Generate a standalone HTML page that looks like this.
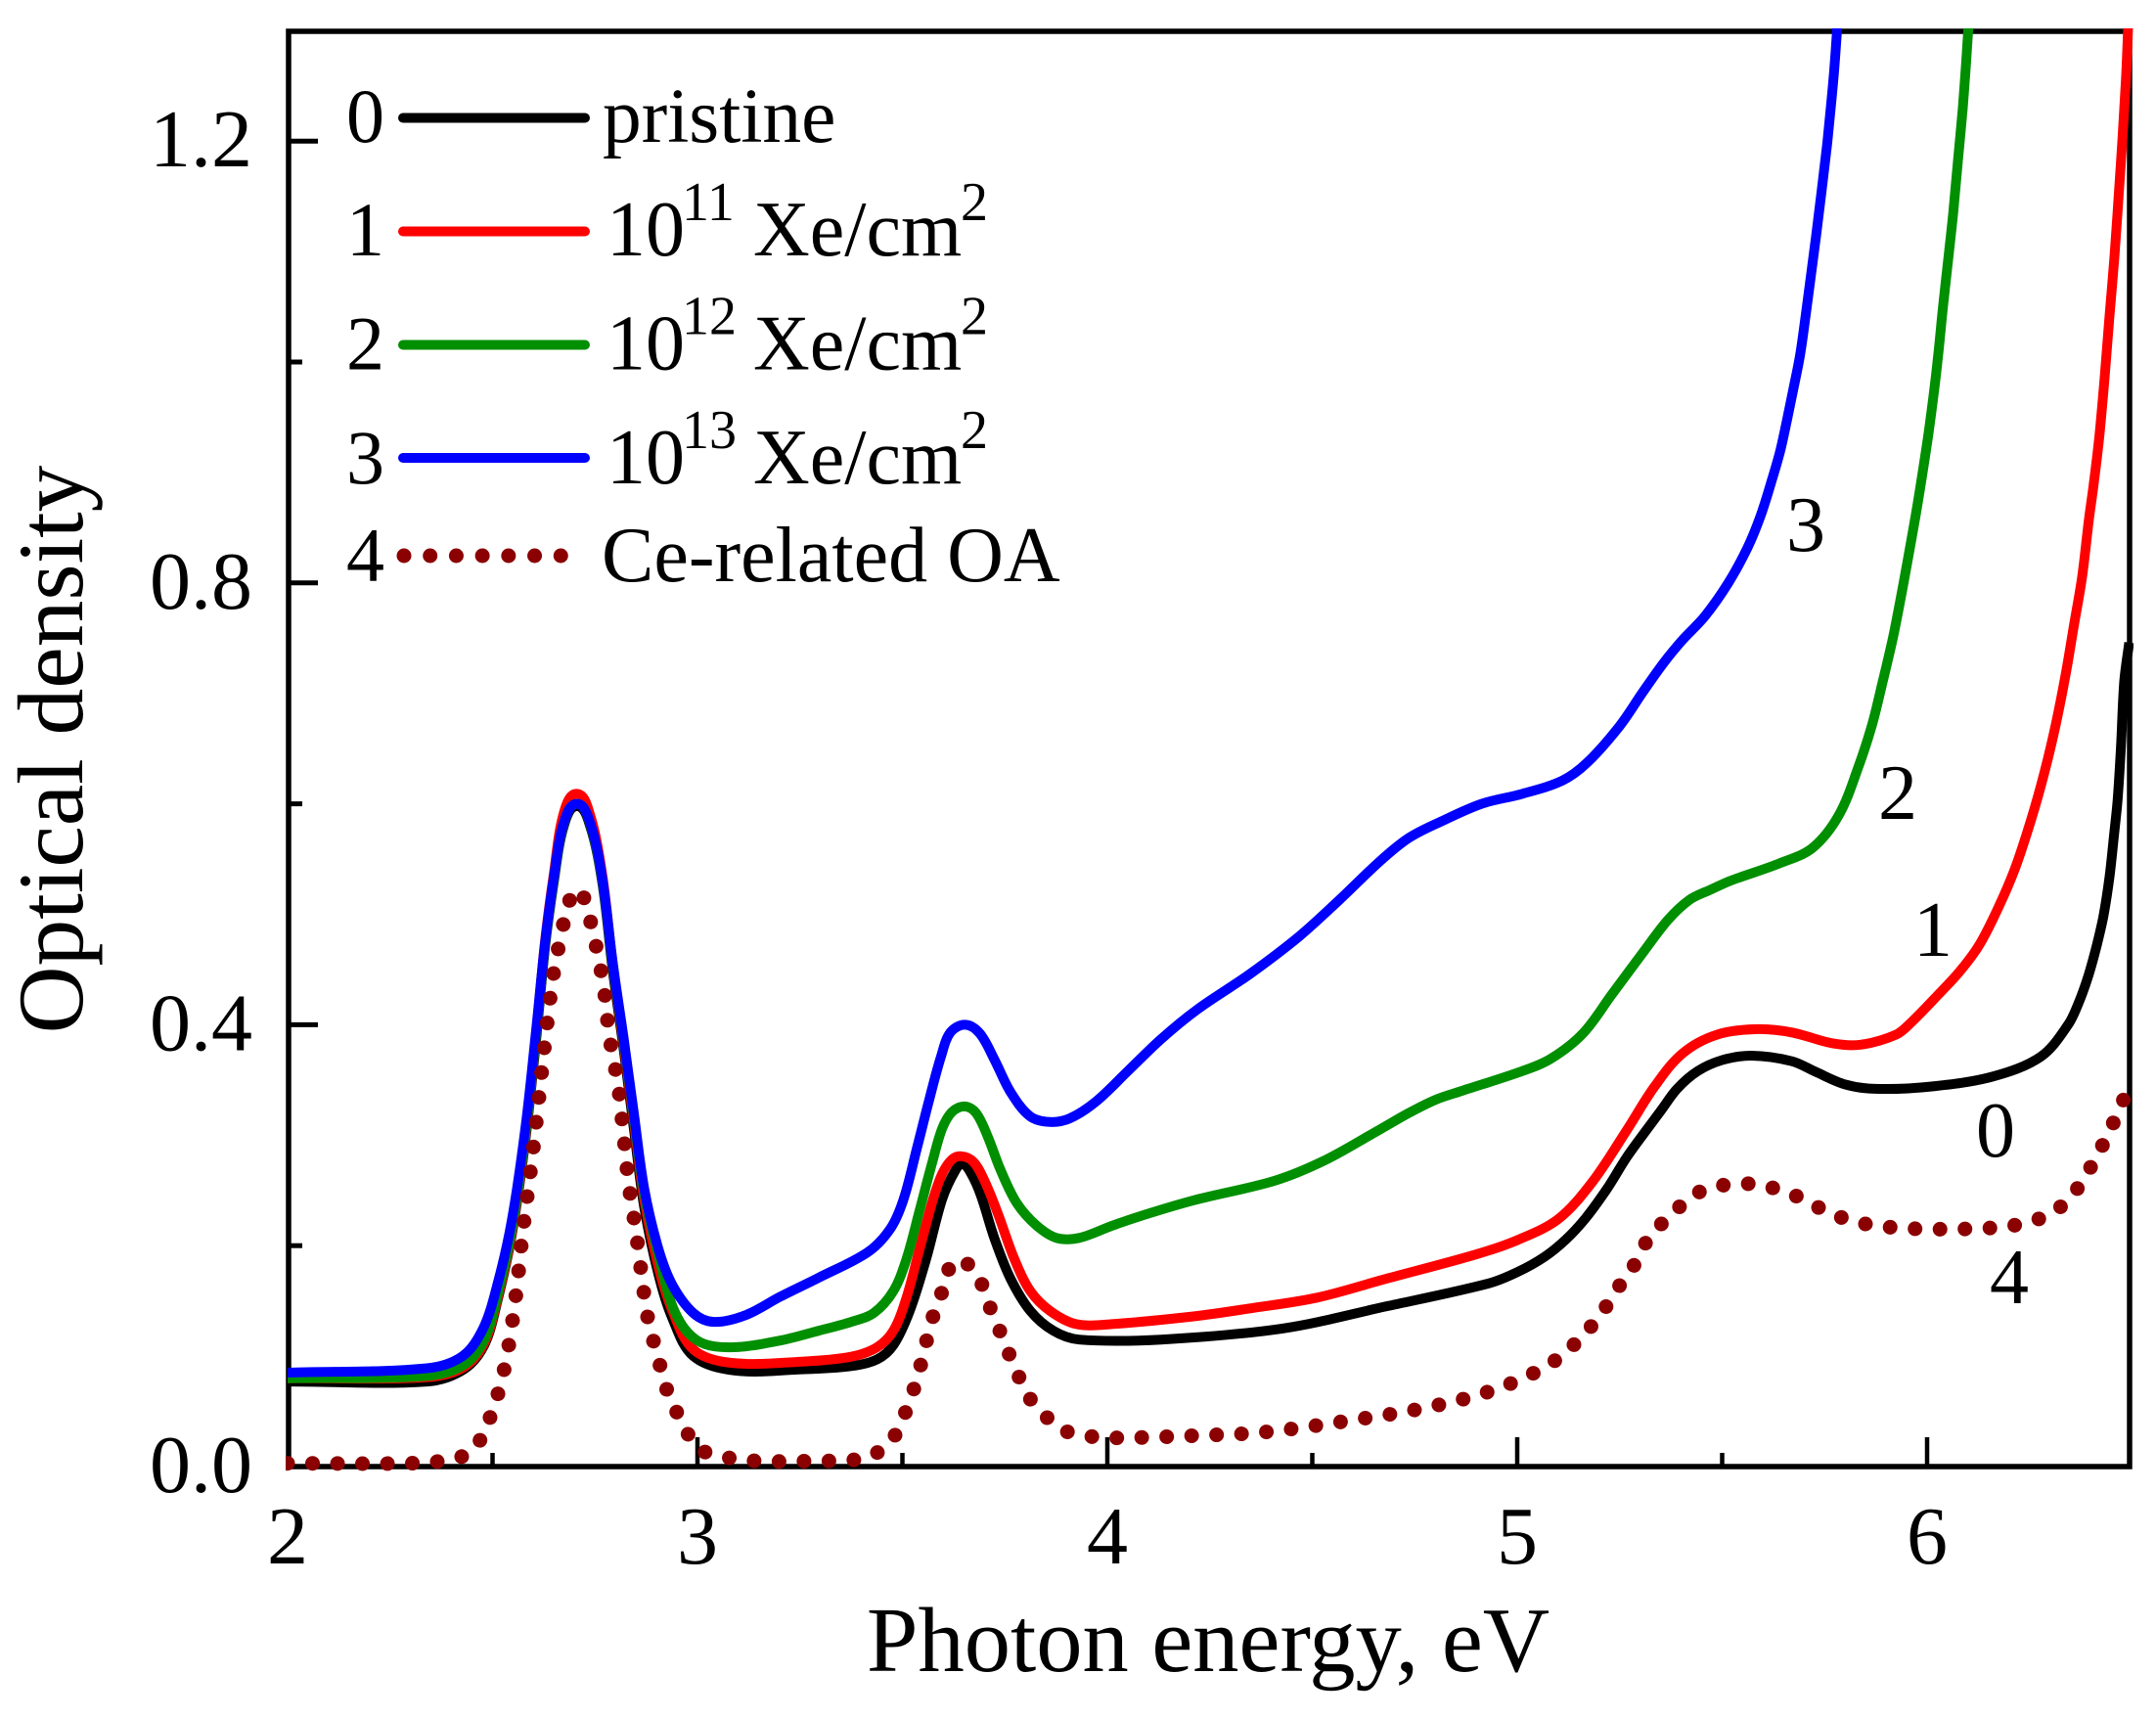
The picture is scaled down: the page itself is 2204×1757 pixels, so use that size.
<!DOCTYPE html>
<html lang="en">
<head>
<meta charset="utf-8">
<title>Optical density vs photon energy</title>
<style>
html,body{margin:0;padding:0;background:#fff;}
svg{display:block;}
text{font-family:"Liberation Serif",serif;fill:#000;}
</style>
</head>
<body>
<svg id="chart" xmlns="http://www.w3.org/2000/svg" width="2204" height="1757" viewBox="0 0 2204 1757">
  <defs>
    <clipPath id="plot-clip"><rect x="292" y="29" width="1889" height="1476"/></clipPath>
  </defs>
  <rect x="295" y="32" width="1882" height="1467" fill="none" stroke="#000" stroke-width="5.5"/>
  <g id="ticks"></g>
  <g id="series" clip-path="url(#plot-clip)"></g>

  <text x="1235" y="1708" font-size="94.5" text-anchor="middle">Photon energy, eV</text>
  <text transform="translate(84,766) rotate(-90)" font-size="95.5" text-anchor="middle">Optical density</text>

  <g>
    <text x="354" y="145" font-size="78">0</text>
    <line x1="412" y1="120.5" x2="598" y2="120.5" stroke="#000" stroke-width="10" stroke-linecap="round"/>
    <text x="616" y="145" font-size="79.5">pristine</text>

    <text x="354" y="261" font-size="78">1</text>
    <line x1="412" y1="236.5" x2="598" y2="236.5" stroke="#ff0000" stroke-width="10" stroke-linecap="round"/>
    <text x="620" y="261" font-size="80">10</text>
    <text x="697" y="225" font-size="56">11</text>
    <text x="770" y="261" font-size="80">Xe/cm</text>
    <text x="982" y="225" font-size="56">2</text>

    <text x="354" y="377.5" font-size="78">2</text>
    <line x1="412" y1="352.5" x2="598" y2="352.5" stroke="#008f00" stroke-width="10" stroke-linecap="round"/>
    <text x="620" y="377.5" font-size="80">10</text>
    <text x="697" y="341.5" font-size="56">12</text>
    <text x="770" y="377.5" font-size="80">Xe/cm</text>
    <text x="982" y="341.5" font-size="56">2</text>

    <text x="354" y="494" font-size="78">3</text>
    <line x1="412" y1="468" x2="598" y2="468" stroke="#0000ff" stroke-width="10" stroke-linecap="round"/>
    <text x="620" y="494" font-size="80">10</text>
    <text x="697" y="458" font-size="56">13</text>
    <text x="770" y="494" font-size="80">Xe/cm</text>
    <text x="982" y="458" font-size="56">2</text>

    <text x="354" y="594" font-size="78">4</text>
    <line x1="413" y1="568" x2="582" y2="568" stroke="#8b0000" stroke-width="15" stroke-linecap="round" stroke-dasharray="0.01 26.7"/>
    <text x="615" y="594" font-size="80">Ce-related OA</text>
  </g>

  <text x="1826" y="563" font-size="80">3</text>
  <text x="1920" y="837" font-size="80">2</text>
  <text x="1956" y="977" font-size="80">1</text>
  <text x="2020" y="1182" font-size="80">0</text>
  <text x="2034" y="1332" font-size="80">4</text>
</svg>
<script>
var xTickValues = [2, 2.5, 3, 3.5, 4, 4.5, 5, 5.5, 6];
var xTickLabels = ["2", "", "3", "", "4", "", "5", "", "6"];
var yTickValues = [0, 0.2, 0.4, 0.6, 0.8, 1.0, 1.2];
var yTickLabels = ["0.0", "", "0.4", "", "0.8", "", "1.2"];

var pristineEnergy = [2,2.34,2.43,2.48,2.512,2.547,2.58,2.606,2.628,2.649,2.674,2.706,2.738,2.768,2.793,2.819,2.845,2.87,2.904,2.938,2.99,3.09,3.255,3.375,3.438,3.478,3.518,3.558,3.597,3.629,3.647,3.668,3.692,3.725,3.764,3.812,3.868,3.931,4.131,4.427,4.68,4.932,5,5.067,5.12,5.167,5.22,5.267,5.31,5.352,5.39,5.44,5.5,5.571,5.67,5.73,5.8,5.873,6.008,6.159,6.277,6.344,6.37,6.394,6.414,6.43,6.445,6.457,6.465,6.473,6.481,6.493];
var pristineDensity = [0.077,0.077,0.088,0.11,0.15,0.21,0.295,0.385,0.47,0.528,0.58,0.598,0.58,0.528,0.45,0.38,0.305,0.235,0.175,0.135,0.1,0.087,0.088,0.091,0.097,0.11,0.141,0.188,0.242,0.268,0.274,0.265,0.245,0.206,0.17,0.141,0.123,0.115,0.115,0.125,0.145,0.166,0.176,0.19,0.206,0.225,0.252,0.28,0.302,0.323,0.342,0.358,0.368,0.372,0.367,0.357,0.346,0.342,0.344,0.353,0.371,0.4,0.42,0.445,0.472,0.498,0.534,0.575,0.604,0.652,0.711,0.746];

var dose11Energy = [2,2.34,2.43,2.48,2.512,2.547,2.58,2.606,2.628,2.649,2.674,2.706,2.738,2.768,2.793,2.819,2.845,2.87,2.904,2.938,2.99,3.08,3.255,3.375,3.438,3.478,3.51,3.542,3.574,3.597,3.621,3.644,3.673,3.7,3.733,3.773,3.812,3.86,3.924,4.011,4.21,4.344,4.512,4.68,4.899,5,5.1,5.184,5.268,5.335,5.403,5.487,5.587,5.67,5.772,5.84,5.924,5.961,6.024,6.079,6.127,6.175,6.215,6.255,6.286,6.314,6.338,6.358,6.378,6.395,6.406,6.42,6.433,6.445,6.457,6.468,6.477,6.485,6.49,6.495];
var dose11Density = [0.08,0.081,0.09,0.112,0.152,0.212,0.298,0.39,0.475,0.535,0.592,0.609,0.59,0.535,0.455,0.385,0.312,0.242,0.182,0.142,0.106,0.094,0.095,0.0995,0.108,0.123,0.153,0.197,0.241,0.265,0.278,0.281,0.276,0.259,0.229,0.188,0.159,0.141,0.129,0.129,0.136,0.143,0.153,0.17,0.192,0.205,0.224,0.258,0.305,0.344,0.374,0.391,0.396,0.393,0.383,0.382,0.391,0.402,0.426,0.448,0.472,0.507,0.542,0.587,0.628,0.672,0.717,0.761,0.805,0.858,0.888,0.932,0.985,1.042,1.095,1.154,1.205,1.255,1.2985,1.34];

var dose12Energy = [2,2.34,2.43,2.48,2.512,2.547,2.58,2.606,2.628,2.649,2.674,2.706,2.738,2.768,2.793,2.819,2.845,2.87,2.904,2.946,3,3.08,3.2,3.296,3.375,3.43,3.478,3.51,3.542,3.574,3.597,3.621,3.652,3.68,3.709,3.74,3.78,3.828,3.876,3.931,4.011,4.091,4.21,4.41,4.529,4.664,4.735,4.8,4.864,5.012,5.081,5.16,5.23,5.308,5.368,5.42,5.47,5.518,5.639,5.72,5.785,5.833,5.866,5.89,5.921,5.972,6,6.016,6.027,6.038,6.052,6.064,6.075,6.087,6.095,6.1,6.106];
var dose12Density = [0.08,0.082,0.092,0.115,0.155,0.215,0.3,0.39,0.472,0.53,0.582,0.6,0.582,0.53,0.455,0.388,0.316,0.248,0.192,0.139,0.114,0.108,0.114,0.123,0.131,0.139,0.159,0.188,0.232,0.277,0.306,0.321,0.326,0.32,0.298,0.268,0.238,0.218,0.207,0.207,0.218,0.228,0.241,0.259,0.277,0.305,0.32,0.332,0.34,0.358,0.369,0.392,0.427,0.466,0.495,0.513,0.522,0.53,0.546,0.56,0.59,0.634,0.672,0.708,0.758,0.861,0.9265,0.9707,1.006,1.047,1.0947,1.136,1.181,1.23,1.27,1.2985,1.33];

var dose13Energy = [2,2.34,2.427,2.477,2.512,2.547,2.58,2.606,2.628,2.649,2.674,2.706,2.738,2.768,2.793,2.819,2.845,2.87,2.904,2.938,2.99,3.04,3.117,3.203,3.296,3.415,3.47,3.502,3.534,3.566,3.594,3.617,3.653,3.689,3.725,3.764,3.812,3.86,3.907,3.971,4.05,4.131,4.22,4.348,4.468,4.566,4.665,4.735,4.814,4.913,5.012,5.11,5.17,5.249,5.308,5.358,5.4,5.458,5.515,5.562,5.594,5.622,5.642,5.658,5.674,5.69,5.704,5.718,5.729,5.741,5.756,5.765,5.773,5.78,5.785];
var dose13Density = [0.085,0.089,0.1,0.125,0.165,0.223,0.306,0.394,0.474,0.532,0.583,0.6,0.583,0.532,0.457,0.39,0.319,0.252,0.198,0.165,0.139,0.131,0.137,0.154,0.171,0.194,0.215,0.241,0.286,0.333,0.371,0.393,0.4,0.392,0.368,0.339,0.317,0.312,0.315,0.33,0.358,0.387,0.414,0.446,0.48,0.513,0.548,0.569,0.584,0.6,0.609,0.621,0.637,0.67,0.702,0.728,0.747,0.77,0.8,0.832,0.861,0.894,0.92,0.947,0.976,1.006,1.043,1.082,1.114,1.15,1.197,1.23,1.263,1.2985,1.33];

var ceRelatedEnergy = [2,2.3,2.393,2.44,2.474,2.52,2.55,2.575,2.6,2.627,2.648,2.67,2.684,2.706,2.73,2.754,2.772,2.785,2.806,2.819,2.832,2.849,2.864,2.878,2.902,2.93,2.951,2.974,3.01,3.06,3.15,3.271,3.38,3.426,3.474,3.498,3.518,3.53,3.546,3.559,3.574,3.594,3.603,3.634,3.68,3.697,3.716,3.733,3.754,3.771,3.794,3.816,3.854,3.892,3.946,4.007,4.142,4.21,4.378,4.596,4.772,4.932,5.067,5.143,5.204,5.246,5.277,5.318,5.381,5.453,5.571,5.68,5.772,5.877,6.058,6.235,6.332,6.394,6.444,6.487,6.5];
var ceRelatedDensity = [0.003,0.003,0.006,0.012,0.027,0.075,0.135,0.216,0.29,0.381,0.444,0.486,0.507,0.522,0.505,0.469,0.432,0.39,0.346,0.303,0.257,0.215,0.173,0.136,0.101,0.064,0.048,0.031,0.015,0.009,0.005,0.005,0.006,0.01,0.024,0.042,0.058,0.073,0.094,0.114,0.135,0.155,0.169,0.187,0.175,0.162,0.142,0.127,0.108,0.092,0.074,0.059,0.044,0.033,0.028,0.026,0.027,0.028,0.031,0.042,0.053,0.068,0.09,0.112,0.138,0.162,0.177,0.205,0.23,0.25,0.256,0.245,0.228,0.218,0.215,0.22,0.237,0.268,0.303,0.339,0.352];

var svgNS = 'http://www.w3.org/2000/svg';

function xAxis(v) { return 294 + 419 * (v - 2); }
function yAxis(v) { return 1499 - 1129 * v; }

function smoothPath(energy, density) {
  var p = [];
  for (var i = 0; i < energy.length; i++) {
    p.push([xAxis(energy[i]), yAxis(density[i])]);
  }
  var d = 'M' + p[0][0].toFixed(1) + ' ' + p[0][1].toFixed(1);
  function dist(a, b) { return Math.sqrt(Math.pow(a[0] - b[0], 2) + Math.pow(a[1] - b[1], 2)) || 1; }
  function tangent(k) {
    var a = p[Math.max(k - 1, 0)], b = p[Math.min(k + 1, p.length - 1)];
    var len = dist(a, b);
    return [(b[0] - a[0]) / len, (b[1] - a[1]) / len];
  }
  for (var j = 0; j < p.length - 1; j++) {
    var seg = dist(p[j], p[j + 1]) / 3;
    var t0 = tangent(j), t1 = tangent(j + 1);
    d += 'C' + (p[j][0] + t0[0] * seg).toFixed(1) + ' ' + (p[j][1] + t0[1] * seg).toFixed(1) + ' ' +
         (p[j + 1][0] - t1[0] * seg).toFixed(1) + ' ' + (p[j + 1][1] - t1[1] * seg).toFixed(1) + ' ' +
         p[j + 1][0].toFixed(1) + ' ' + p[j + 1][1].toFixed(1);
  }
  return d;
}

var tickGroup = document.getElementById('ticks');
var seriesGroup = document.getElementById('series');

xTickValues.forEach(function (v, i) {
  var major = xTickLabels[i] !== '';
  if (i > 0) {
    var t = document.createElementNS(svgNS, 'line');
    
    
    t.setAttribute('x1', xAxis(v));
    t.setAttribute('x2', xAxis(v));
    t.setAttribute('y1', 1499);
    t.setAttribute('y2', major ? 1469 : 1485);
    t.setAttribute('stroke', '#000');
    t.setAttribute('stroke-width', 4.5);
    tickGroup.appendChild(t);
  }
  if (major) {
    var lab = document.createElementNS(svgNS, 'text');
    
    
    lab.setAttribute('x', xAxis(v));
    lab.setAttribute('y', 1598);
    lab.setAttribute('font-size', 84);
    lab.setAttribute('text-anchor', 'middle');
    lab.textContent = xTickLabels[i];
    tickGroup.appendChild(lab);
  }
});

yTickValues.forEach(function (v, i) {
  var major = yTickLabels[i] !== '';
  if (i > 0) {
    var t = document.createElementNS(svgNS, 'line');
    
    
    t.setAttribute('x1', 295);
    t.setAttribute('x2', major ? 325 : 309);
    t.setAttribute('y1', yAxis(v));
    t.setAttribute('y2', yAxis(v));
    t.setAttribute('stroke', '#000');
    t.setAttribute('stroke-width', 5);
    tickGroup.appendChild(t);
  }
  if (major) {
    var lab = document.createElementNS(svgNS, 'text');
    
    
    lab.setAttribute('x', 258);
    lab.setAttribute('y', yAxis(v) + 26);
    lab.setAttribute('font-size', 84);
    lab.setAttribute('text-anchor', 'end');
    lab.textContent = yTickLabels[i];
    tickGroup.appendChild(lab);
  }
});

function addSolid(energy, density, color, name) {
  var el = document.createElementNS(svgNS, 'path');
  
  
  el.setAttribute('d', smoothPath(energy, density));
  el.setAttribute('fill', 'none');
  el.setAttribute('stroke', color);
  el.setAttribute('stroke-width', 10);
  el.setAttribute('stroke-linejoin', 'round');
  seriesGroup.appendChild(el);
}

addSolid(pristineEnergy, pristineDensity, '#000000', 'curve-pristine');
addSolid(dose11Energy, dose11Density, '#ff0000', 'curve-1e11-xe');
addSolid(dose12Energy, dose12Density, '#008f00', 'curve-1e12-xe');
addSolid(dose13Energy, dose13Density, '#0000ff', 'curve-1e13-xe');

var dotted = document.createElementNS(svgNS, 'path');


dotted.setAttribute('d', smoothPath(ceRelatedEnergy, ceRelatedDensity));
dotted.setAttribute('fill', 'none');
dotted.setAttribute('stroke', '#8b0000');
dotted.setAttribute('stroke-width', 15);
dotted.setAttribute('stroke-linecap', 'round');
dotted.setAttribute('stroke-dasharray', '0.01 25.5');
seriesGroup.appendChild(dotted);
</script>
</body>
</html>
